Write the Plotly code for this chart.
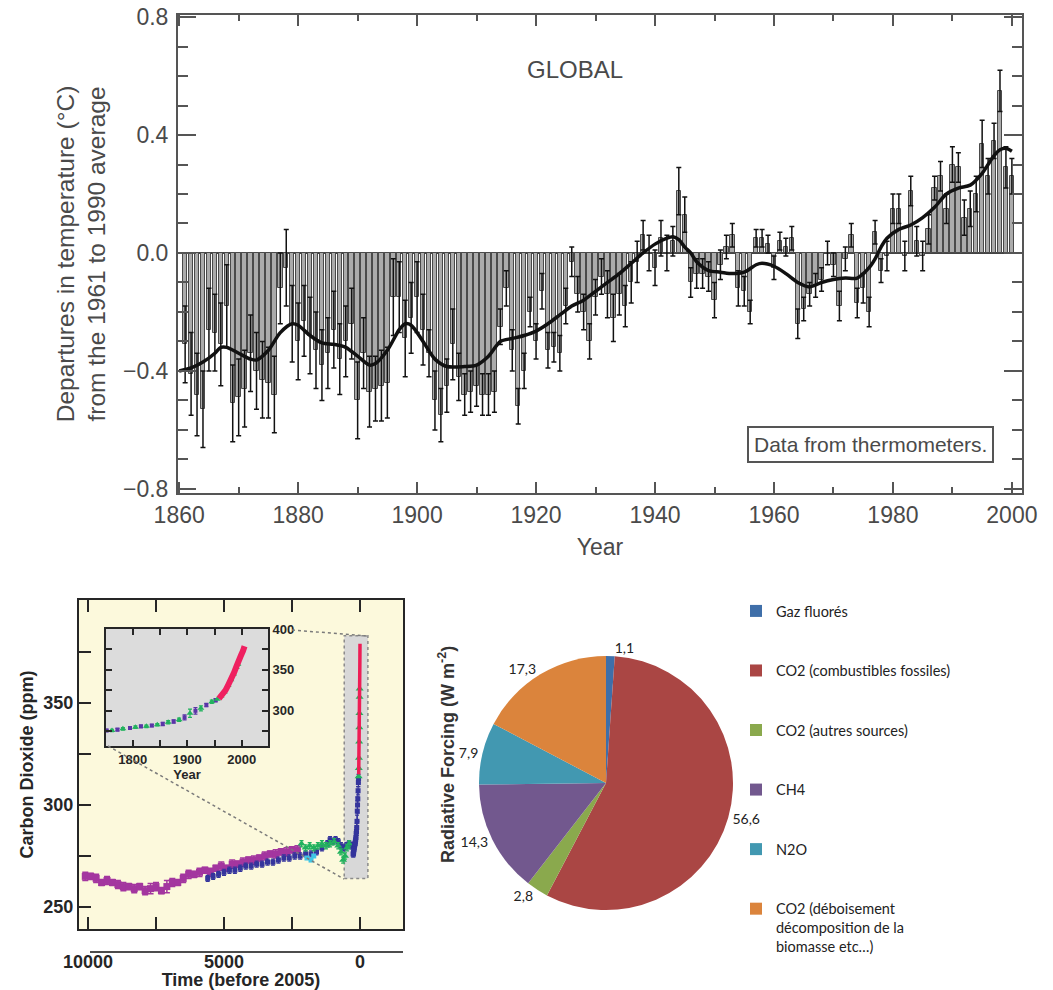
import math
import plotly.graph_objects as go

W, H = 1053, 990


def fx(px):
    return px / W


def fy(py):
    return 1 - py / H


# ---------------- Global temperature (departures from the 1961-1990 mean, °C) ----------------
years = list(range(1861, 2001))
temp_anom = [
    -0.31, -0.41, -0.48, -0.53, -0.26, -0.27, -0.31, -0.18, -0.51, -0.49,   # 1861-1870
    -0.46, -0.34, -0.40, -0.43, -0.44, -0.48, -0.12, -0.05, -0.24, -0.30,   # 1871-1880
    -0.23, -0.28, -0.33, -0.38, -0.34, -0.26, -0.36, -0.30, -0.24, -0.50,   # 1881-1890
    -0.34, -0.47, -0.46, -0.45, -0.44, -0.15, -0.15, -0.29, -0.22, -0.15,   # 1891-1900
    -0.26, -0.34, -0.50, -0.55, -0.45, -0.31, -0.42, -0.48, -0.47, -0.45,   # 1901-1910
    -0.48, -0.48, -0.47, -0.25, -0.12, -0.33, -0.52, -0.40, -0.20, -0.30,   # 1911-1920
    -0.13, -0.33, -0.32, -0.34, -0.18, -0.03, -0.14, -0.20, -0.30, -0.15,   # 1921-1930
    -0.08, -0.14, -0.22, -0.14, -0.18, -0.10, -0.03, 0.06, 0.00, -0.05,     # 1931-1940
    0.05, 0.00, 0.04, 0.21, 0.13, -0.10, -0.07, -0.07, -0.08, -0.16,        # 1941-1950
    -0.04, 0.02, 0.06, -0.12, -0.13, -0.20, 0.05, 0.05, 0.03, -0.05,        # 1951-1960
    0.04, 0.02, 0.05, -0.24, -0.19, -0.14, -0.11, -0.09, 0.00, -0.04,       # 1961-1970
    -0.18, -0.02, 0.06, -0.17, -0.12, -0.20, 0.07, -0.06, -0.01, 0.15,      # 1971-1980
    0.15, -0.01, 0.21, 0.04, -0.01, 0.08, 0.22, 0.26, 0.15, 0.30,           # 1981-1990
    0.29, 0.12, 0.15, 0.20, 0.37, 0.26, 0.38, 0.55, 0.29, 0.26,             # 1991-2000
]
temp_err = [
    0.13, 0.14, 0.14, 0.13, 0.14, 0.13, 0.14, 0.14, 0.13, 0.13,
    0.13, 0.13, 0.13, 0.13, 0.12, 0.13, 0.12, 0.13, 0.13, 0.13,
    0.12, 0.13, 0.13, 0.12, 0.12, 0.13, 0.12, 0.12, 0.12, 0.13,
    0.12, 0.12, 0.11, 0.12, 0.12, 0.13, 0.12, 0.13, 0.12, 0.12,
    0.12, 0.08, 0.10, 0.09, 0.09, 0.12, 0.08, 0.07, 0.07, 0.07,
    0.07, 0.07, 0.07, 0.06, 0.06, 0.07, 0.06, 0.06, 0.05, 0.06,
    0.06, 0.06, 0.05, 0.06, 0.06, 0.05, 0.06, 0.06, 0.06, 0.06,
    0.06, 0.08, 0.08, 0.07, 0.07, 0.07, 0.07, 0.05, 0.06, 0.06,
    0.06, 0.06, 0.05, 0.08, 0.06, 0.05, 0.05, 0.05, 0.05, 0.06,
    0.05, 0.04, 0.04, 0.06, 0.05, 0.04, 0.03, 0.03, 0.03, 0.04,
    0.03, 0.03, 0.04, 0.05, 0.04, 0.04, 0.04, 0.04, 0.04, 0.04,
    0.05, 0.04, 0.04, 0.05, 0.05, 0.05, 0.04, 0.04, 0.05, 0.05,
    0.05, 0.05, 0.05, 0.05, 0.05, 0.05, 0.04, 0.05, 0.05, 0.06,
    0.05, 0.06, 0.06, 0.06, 0.08, 0.06, 0.06, 0.07, 0.07, 0.06,
]
# smoothed curve
smooth_years = [1860, 1862, 1864, 1866, 1867, 1868, 1870, 1872, 1873, 1875, 1877, 1879, 1880,
                1882, 1884, 1886, 1888, 1890, 1892, 1893, 1895, 1897, 1898, 1899, 1901, 1903,
                1905, 1908, 1910, 1912, 1914, 1916, 1918, 1920, 1922, 1924, 1926, 1928, 1930,
                1932, 1934, 1936, 1938, 1940, 1942, 1943, 1944, 1945, 1946, 1947, 1949, 1951,
                1953, 1955, 1957, 1958, 1960, 1962, 1964, 1966, 1968, 1970, 1972, 1974, 1976,
                1977, 1978, 1979, 1981, 1983, 1985, 1987, 1989, 1991, 1993, 1995, 1996, 1997,
                1998, 1999, 2000]
smooth_vals = [-0.40, -0.39, -0.37, -0.34, -0.32, -0.32, -0.34, -0.36, -0.363, -0.33, -0.27,
               -0.24, -0.245, -0.28, -0.305, -0.31, -0.32, -0.35, -0.38, -0.375, -0.33, -0.26,
               -0.24, -0.245, -0.30, -0.36, -0.385, -0.385, -0.38, -0.35, -0.30, -0.29, -0.28,
               -0.265, -0.24, -0.21, -0.18, -0.16, -0.13, -0.10, -0.07, -0.035, 0.0, 0.03, 0.05,
               0.055, 0.045, 0.02, 0.0, -0.03, -0.06, -0.065, -0.07, -0.065, -0.04, -0.035,
               -0.045, -0.07, -0.10, -0.115, -0.10, -0.09, -0.085, -0.085, -0.05, -0.02, 0.02,
               0.05, 0.08, 0.095, 0.12, 0.155, 0.20, 0.22, 0.23, 0.27, 0.30, 0.33, 0.35, 0.355,
               0.345]

# ---------------- Carbon dioxide (ppm) ----------------
# ice-core series, time in years before 2005
purple_t = [10100, 9900, 9700, 9500, 9300, 9100, 8900, 8700, 8500, 8300, 8100, 7900, 7700, 7500,
            7300, 7100, 6900, 6700, 6500, 6300, 6100, 5900, 5700, 5500, 5300, 5100, 4900, 4700,
            4500, 4300, 4100, 3900, 3700, 3500, 3300, 3100, 2900, 2700, 2500, 2300]
purple_ppm = [265, 265, 264, 262, 263, 262, 261, 260, 260, 259, 260, 258, 259, 260, 258, 260, 262,
              262, 264, 266, 266, 267, 268, 267, 269, 270, 269, 271, 271, 272, 273, 273, 274, 275,
              276, 276, 277, 277, 278, 278]
purple_err = [2.0, 1.5, 2.0, 1.5, 2.0, 1.5, 2.0, 2.0, 1.5, 2.0, 1.5, 2.0, 2.5, 2.0, 1.5, 3.0, 2.0,
              1.5, 2.0, 2.0, 1.5, 2.0, 1.5, 2.0, 1.5, 2.0, 1.5, 2.0, 1.5, 2.0, 1.5, 2.0, 1.5, 2.0,
              1.5, 2.0, 1.5, 2.0, 1.5, 2.0]
blue_t = [5600, 5400, 5200, 5000, 4800, 4600, 4400, 4200, 4000, 3800, 3600, 3400, 3200, 3000, 2800,
          2600, 2400, 2200, 2000, 1800, 1600, 1400, 1200, 1100, 1000, 900, 800, 700, 600, 500, 400,
          300]
blue_ppm = [264, 265, 266, 267, 268, 268, 269, 270, 270, 271, 271, 272, 272, 273, 274, 274, 275, 275,
            276, 276, 277, 279, 281, 283, 282, 283, 282, 280, 279, 280, 281, 280]
green_t = [2150, 2000, 1850, 1700, 1550, 1400, 1250, 1100, 950, 800, 700, 620, 550, 480, 400]
green_ppm = [281, 279, 280, 279, 280, 281, 280, 281, 282, 280, 277, 273, 275, 279, 281]
cyan_t = [1950, 1800, 1700]
cyan_ppm = [274, 273, 275]

# ice-core and firn data of the industrial era (calendar years)
ice_year = [1752, 1762, 1772, 1782, 1795, 1805, 1815, 1825, 1835, 1845, 1855, 1865, 1875, 1885,
            1895, 1905, 1915, 1925, 1935, 1945, 1952]
ice_ppm = [276, 276, 277, 278, 279, 280, 281, 281, 282, 283, 284, 286, 287, 289, 292, 297, 300,
           303, 307, 311, 313]
ice_err = [1.5, 1.5, 1.5, 1.5, 1.5, 1.5, 1.5, 1.5, 1.5, 1.5, 2, 2, 2, 2, 3, 5, 4, 3, 2, 2, 2]
firn_year = [1955, 1962, 1968, 1975, 1980, 1985, 1990, 1993]
firn_ppm = [314, 318, 323, 331, 338, 345, 353, 357]
# direct atmospheric measurements
atm_year = [1958, 1962, 1966, 1970, 1974, 1978, 1982, 1986, 1990, 1994, 1998, 2002, 2005]
atm_ppm = [315, 318, 321, 325, 330, 335, 341, 347, 354, 359, 367, 373, 379]

ref_year = 2005
forcing_ticks = [0, 0.5, 1, 1.5]
forcing_labels = ["0", "", "1", ""]
co2_ticks = [250, 275, 300, 325, 350, 375]
co2_labels = ["250", "", "300", "", "350", ""]
time_ticks = [0, 2500, 5000, 7500, 10000]
time_labels = ["0", "", "5000", "", "10000"]
inset_year_ticks = [1750, 1800, 1850, 1900, 1950, 2000]
inset_year_labels = ["", "1800", "", "1900", "", "2000"]
inset_ppm_ticks = [275, 300, 325, 350, 375, 400]
inset_ppm_labels = ["", "300", "", "350", "", "400"]

# ---------------- Emission shares ----------------
gas_labels = ["Gaz fluorés", "CO2 (combustibles fossiles)", "CO2 (autres sources)", "CH4", "N2O",
              "CO2 (déboisement<br>décomposition de la<br>biomasse etc…)"]
gas_values = [1.1, 56.6, 2.8, 14.3, 7.9, 17.3]
gas_colors = ["#3f6fa9", "#aa4644", "#8aa94d", "#72588e", "#4298b1", "#db843c"]

TOP_FONT = "Liberation Sans, Arial, sans-serif"
GREY = "#4a4a4a"
DARK = "#262626"

fig = go.Figure()

# temperature bars with uncertainty whiskers
fig.add_trace(go.Bar(
    x=years, y=temp_anom, width=0.74,
    marker=dict(color="#ababab", line=dict(color="#4a4a4a", width=1)),
    error_y=dict(type="data", array=temp_err, color="#111111", thickness=1.5, width=2.5),
    xaxis="x", yaxis="y", showlegend=False, hoverinfo="x+y",
))
fig.add_trace(go.Scatter(
    x=smooth_years, y=smooth_vals, mode="lines",
    line=dict(color="#111111", width=3.5, shape="spline", smoothing=0.8),
    xaxis="x", yaxis="y", showlegend=False,
))

# CO2 main panel
fig.add_trace(go.Scatter(
    x=purple_t, y=purple_ppm, mode="markers",
    marker=dict(symbol="square", size=7, color="#a3369f"),
    error_y=dict(type="data", array=purple_err, color="#a3369f", thickness=1.5, width=3),
    xaxis="x2", yaxis="y2", showlegend=False,
))
fig.add_trace(go.Scatter(
    x=blue_t, y=blue_ppm, mode="markers",
    marker=dict(symbol="square", size=5, color="#34349c"),
    error_y=dict(type="constant", value=1.5, color="#34349c", thickness=1.2, width=2),
    xaxis="x2", yaxis="y2", showlegend=False,
))
fig.add_trace(go.Scatter(
    x=cyan_t, y=cyan_ppm, mode="markers",
    marker=dict(symbol="square", size=5, color="#3fc6e6"),
    xaxis="x2", yaxis="y2", showlegend=False,
))
fig.add_trace(go.Scatter(
    x=green_t, y=green_ppm, mode="markers",
    marker=dict(symbol="triangle-up", size=7, color="#22b25e"),
    error_y=dict(type="constant", value=1.5, color="#22b25e", thickness=1.2, width=2),
    xaxis="x2", yaxis="y2", showlegend=False,
))
fig.add_trace(go.Scatter(
    x=[ref_year - y for y in ice_year], y=ice_ppm, mode="markers",
    marker=dict(symbol="square", size=5, color="#34349c"),
    error_y=dict(type="data", array=ice_err, color="#34349c", thickness=1.2, width=2),
    xaxis="x2", yaxis="y2", showlegend=False,
))
fig.add_trace(go.Scatter(
    x=[ref_year - y for y in firn_year], y=firn_ppm, mode="markers",
    marker=dict(symbol="triangle-up", size=7, color="#22b25e"),
    xaxis="x2", yaxis="y2", showlegend=False,
))
fig.add_trace(go.Scatter(
    x=[ref_year - y for y in atm_year], y=atm_ppm, mode="lines",
    line=dict(color="#ee1d55", width=3.5),
    xaxis="x2", yaxis="y2", showlegend=False,
))

# CO2 inset (industrial era)
fig.add_trace(go.Scatter(
    x=ice_year[0::2], y=ice_ppm[0::2], mode="markers",
    marker=dict(symbol="square", size=4, color="#5b35a8"),
    error_y=dict(type="data", array=ice_err[0::2], color="#5b35a8", thickness=1.2, width=2),
    xaxis="x4", yaxis="y4", showlegend=False,
))
fig.add_trace(go.Scatter(
    x=ice_year[1::2], y=ice_ppm[1::2], mode="markers",
    marker=dict(symbol="triangle-up", size=6, color="#22b25e"),
    error_y=dict(type="data", array=ice_err[1::2], color="#22b25e", thickness=1.2, width=2),
    xaxis="x4", yaxis="y4", showlegend=False,
))
fig.add_trace(go.Scatter(
    x=firn_year, y=firn_ppm, mode="markers",
    marker=dict(symbol="triangle-up", size=6, color="#22b25e"),
    xaxis="x4", yaxis="y4", showlegend=False,
))
fig.add_trace(go.Scatter(
    x=atm_year, y=atm_ppm, mode="lines",
    line=dict(color="#ef2060", width=6),
    xaxis="x4", yaxis="y4", showlegend=False,
))

# pie of emission shares
fig.add_trace(go.Pie(
    labels=[lab if i == len(gas_labels) - 1 else lab + "<br> <br> " for i, lab in enumerate(gas_labels)],
    values=gas_values,
    text=[f"{v:.1f}".replace(".", ",") for v in gas_values],
    texttemplate="%{text}", textposition="outside",
    textfont=dict(family="Lato, sans-serif", size=14, color="#222222"),
    marker=dict(colors=gas_colors, line=dict(width=0)),
    sort=False, direction="clockwise", rotation=0,
    domain=dict(x=[fx(479), fx(733)], y=[fy(910), fy(656)]),
    hoverinfo="label+value", showlegend=True, automargin=False,
))

shapes = [
    # CO2 panel backgrounds
    dict(type="rect", xref="x2 domain", yref="y2 domain", x0=0, x1=1, y0=0, y1=1,
         fillcolor="#fcf9dc", line=dict(width=0), layer="below"),
    dict(type="rect", xref="x2", yref="y2", x0=580, x1=-290, y0=264, y1=383,
         fillcolor="#d8d8d8", line=dict(color="#8a8a8a", width=1.5, dash="dot"), layer="below"),
    dict(type="rect", xref="x4 domain", yref="y4 domain", x0=0, x1=1, y0=0, y1=1,
         fillcolor="#dcdcdc", line=dict(width=0), layer="below"),
    # zoom connectors
    dict(type="line", xref="paper", yref="paper", x0=fx(292), y0=fy(630), x1=fx(368), y1=fy(636),
         line=dict(color="#7a7a7a", width=1.5, dash="dot")),
    dict(type="line", xref="paper", yref="paper", x0=fx(108), y0=fy(746), x1=fx(344), y1=fy(879),
         line=dict(color="#7a7a7a", width=1.5, dash="dot")),
    # time axis rule under the CO2 panel
    dict(type="line", xref="paper", yref="paper", x0=fx(90), y0=fy(952), x1=fx(403), y1=fy(952),
         line=dict(color="#111111", width=1.5)),
]

annotations = [
    dict(text="GLOBAL", x=fx(575), y=fy(69), xref="paper", yref="paper", showarrow=False,
         xanchor="center", yanchor="middle",
         font=dict(family=TOP_FONT, size=24, color=GREY)),
    dict(text="Data from thermometers.", x=fx(870), y=fy(444), xref="paper", yref="paper",
         showarrow=False, xanchor="center", yanchor="middle",
         font=dict(family=TOP_FONT, size=21, color=GREY),
         bordercolor="#555555", borderwidth=2, borderpad=5, bgcolor="white"),
    dict(text="Radiative Forcing (W m<sup>-2</sup>)", x=fx(446), y=fy(755), xref="paper",
         yref="paper", showarrow=False, textangle=-90, xanchor="center", yanchor="middle",
         font=dict(family=TOP_FONT, size=18, color="#333333", weight="bold")),
]

bold_tick = dict(family=TOP_FONT, size=18, color=DARK, weight="bold")
inset_tick = dict(family=TOP_FONT, size=13, color=DARK, weight="bold")

fig.update_layout(
    width=W, height=H,
    margin=dict(l=0, r=0, t=0, b=0, autoexpand=False),
    paper_bgcolor="white", plot_bgcolor="rgba(0,0,0,0)",
    shapes=shapes, annotations=annotations,
    bargap=0,
    legend=dict(x=fx(736), y=fy(595), xanchor="left", yanchor="top", valign="top",
                font=dict(family="Lato, sans-serif", size=14.5, color="#222222"),
                bgcolor="rgba(0,0,0,0)", tracegroupgap=0),
    # temperature panel
    xaxis=dict(domain=[fx(178), fx(1022)], range=[1859.8, 2001.7], anchor="y", automargin=False,
               tickmode="linear", tick0=1860, dtick=20, ticks="inside", ticklen=11, tickwidth=1.5,
               tickcolor="#555555",
               minor=dict(dtick=10, ticklen=6, tickwidth=1.5, tickcolor="#555555", ticks="inside"),
               showline=True, linecolor="#555555", linewidth=2, mirror="ticks", showgrid=False,
               zeroline=False, tickfont=dict(family=TOP_FONT, size=23, color=GREY),
               title=dict(text="Year", font=dict(family=TOP_FONT, size=23, color=GREY), standoff=12)),
    yaxis=dict(domain=[fy(493), fy(15)], range=[-0.814, 0.807], anchor="x", automargin=False,
               tickmode="linear", tick0=0, dtick=0.4, tickformat=".1f", ticks="inside", ticklen=18,
               tickwidth=1.5, tickcolor="#555555", ticklabelstandoff=3,
               minor=dict(dtick=0.1, ticklen=10, tickwidth=1.5, tickcolor="#555555", ticks="inside"),
               showline=True, linecolor="#555555", linewidth=2, mirror="ticks", showgrid=False,
               zeroline=True, zerolinecolor="#444444", zerolinewidth=1.5,
               tickfont=dict(family=TOP_FONT, size=23, color=GREY),
               title=dict(text="Departures in temperature (°C)<br>from the 1961 to 1990 average",
                          font=dict(family=TOP_FONT, size=24.5, color=GREY), standoff=10)),
    # CO2 main panel
    xaxis2=dict(domain=[fx(79), fx(403)], range=[10331, -1581], anchor="y2", automargin=False,
                tickvals=time_ticks, ticktext=time_labels, ticks="inside", ticklen=12, tickwidth=2,
                tickcolor=DARK, ticklabelstandoff=15, showline=True, linecolor=DARK, linewidth=2,
                mirror="ticks", showgrid=False, zeroline=False, tickfont=bold_tick,
                title=dict(text="Time (before 2005)", standoff=5,
                           font=dict(family=TOP_FONT, size=18, color=DARK, weight="bold"))),
    yaxis2=dict(domain=[fy(929), fy(600)], range=[239.2, 400.5], anchor="x2", automargin=False,
                tickvals=co2_ticks, ticktext=co2_labels, ticks="inside", ticklen=12, tickwidth=2,
                tickcolor=DARK, showline=True, linecolor=DARK, linewidth=2, mirror=True,
                showgrid=False, zeroline=False, tickfont=bold_tick,
                title=dict(text="Carbon Dioxide (ppm)", standoff=5,
                           font=dict(family=TOP_FONT, size=18, color=DARK, weight="bold"))),
    yaxis3=dict(overlaying="y2", anchor="x2", side="right", range=[239.2, 400.5], automargin=False,
                tickvals=[278 * math.exp(f / 5.35) for f in forcing_ticks], ticktext=forcing_labels,
                ticks="inside", ticklen=12, tickwidth=2, tickcolor=DARK, showline=False,
                showgrid=False, zeroline=False, tickfont=bold_tick),
    # inset
    xaxis4=dict(domain=[fx(106), fx(268)], range=[1751, 2048], anchor="y4", automargin=False,
                tickvals=inset_year_ticks, ticktext=inset_year_labels, ticks="inside", ticklen=6,
                tickwidth=2, tickcolor=DARK, showline=True, linecolor=DARK, linewidth=2,
                mirror="ticks", showgrid=False, zeroline=False, tickfont=inset_tick,
                title=dict(text="Year", standoff=2,
                           font=dict(family=TOP_FONT, size=13, color=DARK, weight="bold"))),
    yaxis4=dict(domain=[fy(746), fy(629)], range=[257, 400], anchor="x4", side="right",
                automargin=False,
                tickvals=inset_ppm_ticks, ticktext=inset_ppm_labels, ticks="inside", ticklen=6,
                tickwidth=2, tickcolor=DARK, showline=True, linecolor=DARK, linewidth=2,
                mirror="ticks", showgrid=False, zeroline=False, tickfont=inset_tick),
)

fig.write_html("out.html")
